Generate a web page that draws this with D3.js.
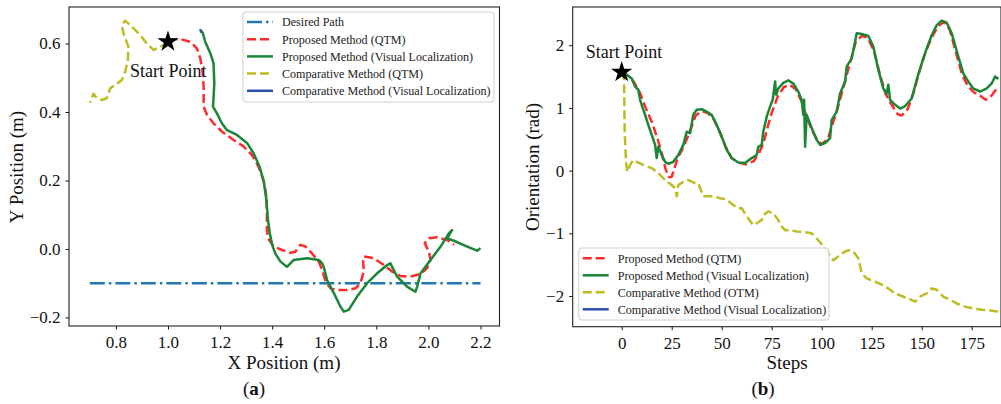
<!DOCTYPE html>
<html><head><meta charset="utf-8">
<script src="https://cdn.jsdelivr.net/npm/d3@7"></script>
<style>
html,body{margin:0;padding:0;background:#fff;}
svg{display:block;font-family:"Liberation Serif","Times New Roman",serif;}
</style></head>
<body>
<svg id="c" width="1001" height="404"></svg>
<script>
// ---------- DATA (panel a) ----------
const xTicksA = [0.8, 1.0, 1.2, 1.4, 1.6, 1.8, 2.0, 2.2];
const yTicksA = [-0.2, 0.0, 0.2, 0.4, 0.6];
const desiredPath = [[0.70, -0.1], [2.20, -0.1]];
const propQTM_A = [[1.002,0.612],[1.047,0.613],[1.086,0.605],[1.111,0.586],[1.124,0.557],[1.133,0.518],[1.137,0.474],[1.137,0.416],[1.150,0.391],[1.175,0.367],[1.207,0.343],[1.252,0.318],[1.291,0.299],[1.323,0.274],[1.348,0.240],[1.368,0.197],[1.378,0.153],[1.380,0.104],[1.380,0.055],[1.384,0.031],[1.406,0.007],[1.438,-0.003],[1.470,-0.011],[1.489,-0.008],[1.508,0.012],[1.528,0.007],[1.553,-0.013],[1.579,-0.037],[1.592,-0.061],[1.605,-0.095],[1.624,-0.115],[1.649,-0.120],[1.688,-0.120],[1.720,-0.115],[1.739,-0.100],[1.752,-0.066],[1.749,-0.032],[1.752,-0.022],[1.790,-0.027],[1.829,-0.047],[1.861,-0.066],[1.893,-0.079],[1.931,-0.081],[1.970,-0.073],[1.995,-0.056],[2.008,-0.032],[2.002,-0.008],[1.986,0.017],[2.002,0.031],[2.034,0.034],[2.072,0.026],[2.098,0.012]];
const propVL_A = [[1.128,0.637],[1.134,0.630],[1.143,0.605],[1.163,0.571],[1.175,0.542],[1.178,0.484],[1.173,0.416],[1.188,0.396],[1.207,0.367],[1.227,0.347],[1.265,0.333],[1.304,0.309],[1.329,0.279],[1.352,0.240],[1.368,0.197],[1.378,0.143],[1.384,0.085],[1.391,0.046],[1.400,0.012],[1.412,-0.013],[1.432,-0.037],[1.457,-0.052],[1.483,-0.032],[1.534,-0.027],[1.579,-0.032],[1.592,-0.042],[1.598,-0.052],[1.611,-0.091],[1.637,-0.129],[1.662,-0.168],[1.675,-0.183],[1.694,-0.178],[1.726,-0.139],[1.765,-0.100],[1.803,-0.071],[1.842,-0.047],[1.854,-0.042],[1.880,-0.081],[1.918,-0.110],[1.950,-0.125],[1.957,-0.110],[1.970,-0.071],[2.008,-0.032],[2.047,0.007],[2.079,0.046],[2.091,0.055],[2.072,0.031],[2.098,0.024],[2.149,0.007],[2.187,-0.005],[2.200,0.002]];
const compQTM_A = [[1.002,0.602],[0.970,0.591],[0.945,0.581],[0.919,0.600],[0.893,0.625],[0.868,0.644],[0.836,0.667],[0.823,0.654],[0.829,0.630],[0.848,0.591],[0.846,0.552],[0.836,0.518],[0.823,0.493],[0.797,0.479],[0.778,0.469],[0.765,0.440],[0.746,0.435],[0.727,0.440],[0.714,0.453],[0.701,0.427]];
const compVL_A = [[1.124,0.642],[1.128,0.632]];
const startA = [1.0, 0.605];

// ---------- DATA (panel b) ----------
const xTicksB = [0, 25, 50, 75, 100, 125, 150, 175];
const yTicksB = [-2, -1, 0, 1, 2];
const propQTM_B = [[0,1.58],[3,1.52],[6,1.42],[9,1.25],[12,1.0],[15,0.78],[18,0.5],[20,0.28],[22,0.02],[23.5,-0.1],[25,-0.1],[26.5,0.05],[28,0.2],[31,0.38],[34,0.62],[37,0.88],[40,0.95],[43,0.92],[46,0.82],[49,0.62],[52,0.38],[55,0.2],[58,0.13],[62,0.1],[66,0.15],[69,0.3],[71,0.45],[73,0.7],[75,0.92],[78,1.18],[81,1.33],[84,1.37],[87,1.3],[90,1.1],[92,0.9],[95,0.65],[98,0.48],[100,0.42],[103,0.5],[105,0.7],[108,1.0],[111,1.35],[114,1.7],[117,2.05],[120,2.15],[123,2.12],[126,1.92],[129,1.55],[132,1.22],[135,1.05],[138,0.9],[140,0.88],[143,0.98],[146,1.25],[149,1.6],[152,1.9],[155,2.12],[158,2.3],[161,2.37],[164,2.25],[167,1.9],[170,1.55],[173,1.35],[176,1.25],[179,1.2],[182,1.13],[185,1.2],[188,1.33]];
const propVL_B = [[0,1.58],[2.5,1.53],[5,1.47],[6.7,1.34],[8.3,1.29],[9.2,1.13],[10.8,0.97],[11.7,0.89],[13.3,0.73],[15,0.57],[16.7,0.41],[17.5,0.20],[18.3,0.38],[20,0.25],[21.7,0.14],[23.3,0.11],[25.8,0.14],[28.3,0.25],[30.8,0.41],[32.5,0.62],[34.2,0.60],[35.8,0.89],[37.5,0.97],[40,0.98],[42.5,0.94],[45,0.89],[47.5,0.73],[50,0.54],[52.5,0.33],[55,0.20],[58.3,0.13],[61.7,0.12],[65,0.20],[67.5,0.25],[68.3,0.38],[70,0.41],[70.8,0.62],[72.5,0.86],[74.2,1.02],[75.5,1.13],[76.7,1.42],[77.2,1.21],[78.3,1.31],[80.8,1.40],[83.3,1.44],[85.8,1.39],[88.3,1.26],[90,1.13],[90.8,0.89],[91.2,1.13],[91.7,0.38],[92.5,0.89],[95,0.68],[97.5,0.49],[99.2,0.41],[101.7,0.44],[104.2,0.52],[105,0.81],[107.5,0.94],[109.2,1.23],[111.7,1.42],[112.5,1.66],[115,1.79],[117.5,2.19],[120,2.18],[123.3,2.15],[125.8,1.98],[128.3,1.61],[130.8,1.31],[132.5,1.23],[133.3,1.37],[134.2,1.13],[136.7,1.05],[139.2,0.99],[141.7,1.03],[145,1.15],[147.5,1.45],[150.8,1.79],[152.5,1.95],[155,2.16],[157.5,2.32],[160,2.39],[162.5,2.36],[165,2.19],[168.3,1.82],[170.8,1.55],[173.3,1.42],[175.8,1.31],[179.2,1.26],[182.5,1.31],[185,1.39],[186.7,1.50],[188.3,1.46]];
const compQTM_B = [[0,1.58],[1.2,1.45],[1.3,1.13],[1.5,0.60],[2.2,0.12],[2.8,-0.02],[4.2,0.09],[5.8,0.17],[7.5,0.14],[10.8,0.09],[15,0.04],[18.3,-0.04],[21.7,-0.15],[25,-0.23],[26.7,-0.28],[27.5,-0.41],[28.3,-0.23],[30.8,-0.18],[33.3,-0.15],[36.7,-0.20],[38.3,-0.20],[40,-0.34],[40.8,-0.41],[43.3,-0.41],[45.8,-0.41],[49.2,-0.44],[52.5,-0.46],[55.8,-0.55],[58.3,-0.60],[60,-0.60],[62.5,-0.73],[65.8,-0.87],[67.5,-0.84],[70,-0.79],[70.8,-0.71],[73.3,-0.65],[75.8,-0.68],[78.3,-0.79],[80,-0.89],[81.7,-0.95],[84.2,-0.95],[87.5,-0.97],[90.8,-0.98],[95,-1.0],[98.3,-1.11],[102.5,-1.27],[104.2,-1.37],[105.8,-1.43],[108.3,-1.37],[111.7,-1.29],[113.3,-1.27],[115.8,-1.29],[118.3,-1.40],[120,-1.64],[122.5,-1.72],[126.7,-1.77],[130,-1.82],[133.3,-1.88],[136.7,-1.96],[140,-2.0],[143.3,-2.04],[146.7,-2.09],[149.2,-2.01],[152.5,-1.96],[155,-1.88],[157.5,-1.90],[160.8,-2.01],[164.2,-2.06],[167.5,-2.12],[171.7,-2.17],[175.8,-2.20],[180,-2.22],[184.2,-2.23],[188.3,-2.25]];
const compVL_B = [];
const startB = [0, 1.57];

const legendA = ["Desired Path","Proposed Method (QTM)","Proposed Method (Visual Localization)","Comparative Method (QTM)","Comparative Method (Visual Localization)"];
const legendB = ["Proposed Method (QTM)","Proposed Method (Visual Localization)","Comparative Method (OTM)","Comparative Method (Visual Localization)"];

// ---------- STYLES ----------
const ST = {
  desired: {stroke:"#1f77b4", width:2.5, dash:"15,4,2.5,4"},
  propQTM: {stroke:"#ff2a2a", width:2.5, dash:"9,4"},
  propVL:  {stroke:"#1a8636", width:2.5, dash:null},
  compQTM: {stroke:"#bcbd22", width:2.5, dash:"9,4"},
  compVL:  {stroke:"#2a4fb0", width:2.5, dash:null}
};

const svg = d3.select("#c");
const FONT = "Liberation Serif";

function panel(cfg){
  const g = svg.append("g");
  const x = d3.scaleLinear().domain(cfg.xd).range(cfg.xr);
  const y = d3.scaleLinear().domain(cfg.yd).range(cfg.yr);
  const id = "clip" + cfg.name;
  svg.append("clipPath").attr("id", id).append("rect")
    .attr("x", cfg.xr[0]).attr("y", cfg.yr[1]).attr("width", cfg.xr[1]-cfg.xr[0]).attr("height", cfg.yr[0]-cfg.yr[1]);
  const plot = g.append("g").attr("clip-path", `url(#${id})`);
  const line = d3.line().x(d=>x(d[0])).y(d=>y(d[1])).curve(d3.curveLinear);
  cfg.series.forEach(s=>{
    if(!s.data.length) return;
    plot.append("path").attr("d", line(s.data)).attr("fill","none")
      .attr("stroke", s.st.stroke).attr("stroke-width", s.st.width)
      .attr("stroke-dasharray", s.st.dash).attr("stroke-linejoin","round");
  });
  // star
  g.append("path").attr("d", d3.symbol().type(d3.symbolStar).size(140)())
    .attr("transform", `translate(${x(cfg.start[0])},${y(cfg.start[1])})`).attr("fill","#000");
  g.append("text").attr("x", cfg.startText[0]).attr("y", cfg.startText[1])
    .attr("font-size", 18).attr("fill","#111").text("Start Point");
  // axes
  const fmt = cfg.fmt;
  const ax = g.append("g").attr("transform", `translate(0,${cfg.yr[0]})`)
    .call(d3.axisBottom(x).tickValues(cfg.xt).tickFormat(fmt.x).tickSize(3.5).tickPadding(6.5));
  const ay = g.append("g").attr("transform", `translate(${cfg.xr[0]},0)`)
    .call(d3.axisLeft(y).tickValues(cfg.yt).tickFormat(fmt.y).tickSize(3.5).tickPadding(5));
  [ax, ay].forEach(a=>{
    a.select(".domain").remove();
    a.selectAll("text").attr("font-family", FONT).attr("font-size", 17).attr("fill","#111");
    a.selectAll("line").attr("stroke","#111");
  });
  // frame
  g.append("rect").attr("x", cfg.xr[0]).attr("y", cfg.yr[1])
    .attr("width", cfg.xr[1]-cfg.xr[0]).attr("height", cfg.yr[0]-cfg.yr[1])
    .attr("fill","none").attr("stroke","#222").attr("stroke-width",1.1);
  // labels
  g.append("text").attr("x", cfg.xlab[0]).attr("y", cfg.xlab[1]).attr("text-anchor","middle")
    .attr("font-size", 19).attr("fill","#111").text(cfg.xlabel);
  g.append("text").attr("transform", `translate(${cfg.ylab[0]},${cfg.ylab[1]}) rotate(-90)`)
    .attr("text-anchor","middle").attr("font-size", 19).attr("fill","#111").text(cfg.ylabel);
  const t = g.append("text").attr("x", cfg.sub[0]).attr("y", cfg.sub[1]).attr("text-anchor","middle")
    .attr("font-size", 19).attr("fill","#111");
  t.append("tspan").text("(");
  t.append("tspan").attr("font-weight","bold").text(cfg.subLetter);
  t.append("tspan").text(")");
  // legend
  const L = cfg.legend;
  const lg = g.append("g");
  lg.append("rect").attr("x", L.x).attr("y", L.y).attr("width", L.w).attr("height", L.h)
    .attr("rx", 3).attr("fill","#fff").attr("fill-opacity",0.85).attr("stroke","#d0d0d0").attr("stroke-width",1);
  L.items.forEach((it,i)=>{
    const yy = L.y0 + i*L.dy;
    lg.append("line").attr("x1", L.x + 4).attr("x2", L.x + 30).attr("y1", yy).attr("y2", yy)
      .attr("stroke", it.st.stroke).attr("stroke-width", it.st.width).attr("stroke-dasharray", it.st.dash);
    lg.append("text").attr("x", L.x + 39).attr("y", yy + 4.3).attr("font-size", 12.1).attr("fill","#222").text(it.label);
  });
}

panel({
  name:"A", xd:[0.62, 2.273], xr:[69, 499.5], yd:[-0.225, 0.7066], yr:[326, 7],
  xt:xTicksA, yt:yTicksA, fmt:{x:d3.format(".1f"), y:d3.format(".1f")},
  series:[
    {data:desiredPath, st:ST.desired},
    {data:compQTM_A, st:ST.compQTM},
    {data:propQTM_A, st:ST.propQTM},
    {data:propVL_A, st:ST.propVL},
    {data:compVL_A, st:ST.compVL}
  ],
  start:startA, startText:[130,77],
  xlabel:"X Position (m)", xlab:[284,369], ylabel:"Y Position (m)", ylab:[23,167],
  sub:[254,395], subLetter:"a",
  legend:{x:243, y:12, w:251, h:90, y0:22, dy:17.2, items:[
    {label:legendA[0], st:ST.desired},{label:legendA[1], st:ST.propQTM},{label:legendA[2], st:ST.propVL},
    {label:legendA[3], st:ST.compQTM},{label:legendA[4], st:ST.compVL}]}
});

panel({
  name:"B", xd:[-24.5, 189.65], xr:[572.7, 1001], yd:[-2.49, 2.61], yr:[326.7, 7],
  xt:xTicksB, yt:yTicksB, fmt:{x:d3.format("d"), y:d3.format("d")},
  series:[
    {data:compQTM_B, st:ST.compQTM},
    {data:propQTM_B, st:ST.propQTM},
    {data:propVL_B, st:ST.propVL},
    {data:compVL_B, st:ST.compVL}
  ],
  start:startB, startText:[585.7,58],
  xlabel:"Steps", xlab:[787,369], ylabel:"Orientation (rad)", ylab:[539,167],
  sub:[763,395], subLetter:"b",
  legend:{x:578.7, y:248, w:250.3, h:72, y0:258.3, dy:17, items:[
    {label:legendB[0], st:ST.propQTM},{label:legendB[1], st:ST.propVL},
    {label:legendB[2], st:ST.compQTM},{label:legendB[3], st:ST.compVL}]}
});
</script>
</body></html>
